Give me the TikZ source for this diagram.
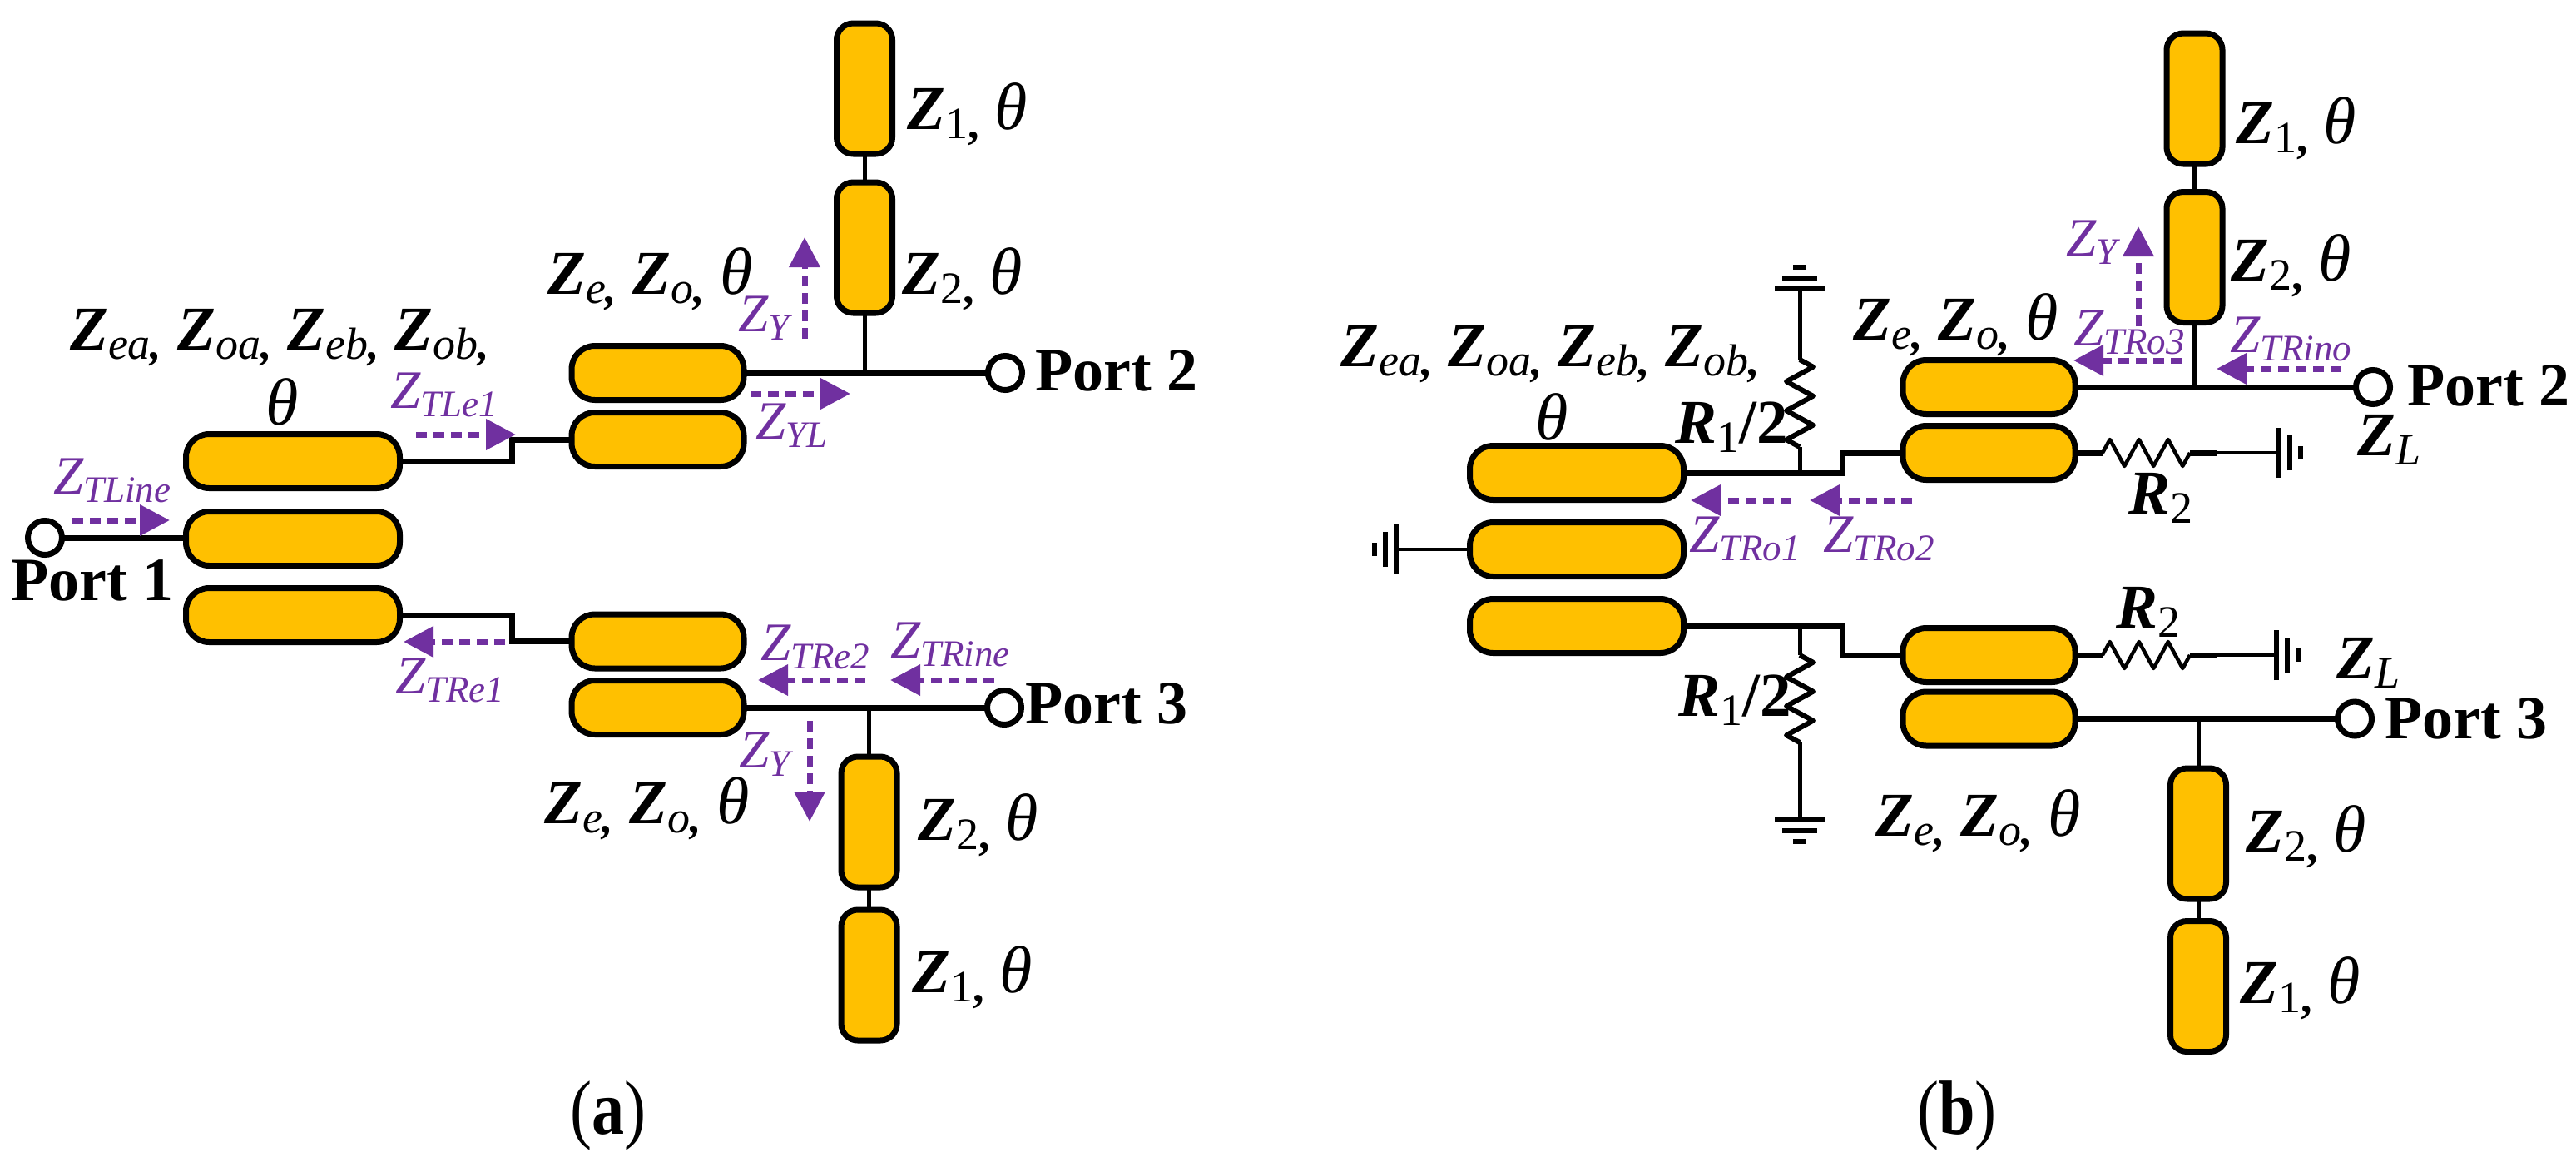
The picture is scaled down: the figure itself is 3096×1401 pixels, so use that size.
\documentclass[tikz,border=0pt]{standalone}
\usepackage{fontspec}
\setmainfont{Liberation Serif}
\usetikzlibrary{arrows.meta,decorations.pathmorphing}
\definecolor{tlgold}{HTML}{FFC000}
\definecolor{zpurple}{HTML}{7030A0}
\newcommand{\zsub}[1]{{\fontsize{54}{54}\selectfont\raisebox{-11pt}{\mdseries #1}}}
\newcommand{\zcom}{\textbf{,}}
\newcommand{\zth}{{\mdseries\fontsize{80}{80}\selectfont θ}}
\newcommand{\psub}[1]{{\fontsize{45}{45}\selectfont\raisebox{-10pt}{#1}}}
\tikzset{
  tline/.style={draw=black,fill=tlgold,line width=7pt,outer sep=0pt,inner sep=0pt,rounded corners=28pt},
  mainline/.style={tline,minimum width=257pt,minimum height=65pt},
  pairline/.style={tline,minimum width=207pt,minimum height=65pt},
  stubline/.style={tline,rounded corners=20pt,minimum width=67pt,minimum height=157pt},
  portnode/.style={circle,draw=black,fill=white,line width=7pt,outer sep=0pt,inner sep=0pt,minimum size=41pt},
  wire/.style={line width=7pt},
  thinwire/.style={line width=5pt},
  resistor/.style={line join=round,decorate,decoration={zigzag,segment length=35pt,amplitude=16pt}},
  zarrow/.style={zpurple,line width=7pt,dash pattern=on 13pt off 8pt,-{Triangle[length=36pt,width=36pt]}},
  zlabel/.style={anchor=base west,inner sep=0pt,font=\fontsize{75}{75}\selectfont\bfseries\itshape},
  plabel/.style={anchor=base west,inner sep=0pt,text=zpurple,font=\fontsize{65}{65}\selectfont\itshape},
  portlabel/.style={anchor=base west,inner sep=0pt,font=\fontsize{74}{74}\selectfont\bfseries},
  caplabel/.style={anchor=base,inner sep=0pt,font=\fontsize{92}{92}\selectfont},
  gnd/.pic={
    \draw[line width=6pt] (-30,0) -- (30,0);
    \draw[line width=6pt] (-21,13) -- (21,13);
    \draw[line width=6pt] (-8,26) -- (8,26);
  }
}
\begin{document}
\begin{tikzpicture}[x=1pt,y=-1pt]
  \useasboundingbox (0,0) rectangle (3096,1401);
  % left circuit
  \node[mainline] (am1) at (352,554) {};
  \node[mainline] (am2) at (352,647) {};
  \node[mainline] (am3) at (352,739) {};
  \node[pairline] (au1) at (790.5,448) {};
  \node[pairline] (au2) at (790.5,528) {};
  \node[pairline] (al1) at (790.5,770.5) {};
  \node[pairline] (al2) at (790.5,850) {};
  \node[stubline] (as1) at (1039,106.5) {};
  \node[stubline] (as2) at (1039,297.5) {};
  \node[stubline] (as3) at (1044.5,987.5) {};
  \node[stubline] (as4) at (1044.5,1171.5) {};
  \node[portnode] (ap1) at (54,646) {};
  \node[portnode] (ap2) at (1208,448) {};
  \node[portnode] (ap3) at (1207,850) {};
  \coordinate (at1) at (615,528);
  \coordinate (at2) at (615,770.5);
  \draw[wire,line join=miter] (am1.east) -| (at1) -- (au2.west);
  \draw[wire,line join=miter] (am3.east) -| (at2) -- (al1.west);
  \draw[wire] (ap1) -- (ap1 -| am2.west);
  \draw[wire] (au1.east) -- (ap2);
  \draw[wire] (al2.east) -- (ap3);
  \draw[thinwire] (as1) -- (as2);
  \draw[thinwire] (as2.south) -- (as2.south |- au1.east);
  \draw[thinwire] (as3.north) -- (as3.north |- al2.east);
  \draw[thinwire] (as3) -- (as4);

  \node[zlabel] (lz1) at (84,420) {Z\zsub{ea\zcom} Z\zsub{oa\zcom} Z\zsub{eb\zcom} Z\zsub{ob\zcom}};
  \node[zlabel] (lz2) at (319,510) {\zth};
  \node[zlabel] (lz3) at (658,353) {Z\zsub{e\zcom} Z\zsub{o\zcom} \zth};
  \node[zlabel] (lz4) at (654,989) {Z\zsub{e\zcom} Z\zsub{o\zcom} \zth};
  \node[zlabel] (lz5) at (1090,155) {Z\zsub{\upshape 1\zcom} \zth};
  \node[zlabel] (lz6) at (1084,353) {Z\zsub{\upshape 2\zcom} \zth};
  \node[zlabel] (lz7) at (1103,1009) {Z\zsub{\upshape 2\zcom} \zth};
  \node[zlabel] (lz8) at (1096,1192) {Z\zsub{\upshape 1\zcom} \zth};
  \node[portlabel] (lp1) at (13,721) {Port 1};
  \node[portlabel] (lp2) at (1244,469) {Port 2};
  \node[portlabel] (lp3) at (1232,869) {Port 3};
  \node[plabel] (lq1) at (64,593) {Z\psub{TLine}};
  \node[plabel] (lq2) at (469,490) {Z\psub{TLe1}};
  \node[plabel] (lq3) at (887,398) {Z\psub{Y}};
  \node[plabel] (lq4) at (908,527) {Z\psub{YL}};
  \node[plabel] (lq5) at (475,833) {Z\psub{TRe1}};
  \node[plabel] (lq6) at (914,793) {Z\psub{TRe2}};
  \node[plabel] (lq7) at (1070,790) {Z\psub{TRine}};
  \node[plabel] (lq8) at (888,922) {Z\psub{Y}};
  \coordinate (aa1) at (87,625);
  \coordinate (aa2) at (204,625);
  \coordinate (aa3) at (500,522);
  \coordinate (aa4) at (620,522);
  \coordinate (aa5) at (967,407);
  \coordinate (aa6) at (967,285);
  \coordinate (aa7) at (902,473);
  \coordinate (aa8) at (1022,473);
  \coordinate (aa9) at (607,771);
  \coordinate (aa10) at (485,771);
  \coordinate (aa11) at (1040,817);
  \coordinate (aa12) at (911,817);
  \coordinate (aa13) at (1195,817);
  \coordinate (aa14) at (1070,817);
  \coordinate (aa15) at (973,866);
  \coordinate (aa16) at (973,987);
  \draw[zarrow] (aa1) -- (aa2);
  \draw[zarrow] (aa3) -- (aa4);
  \draw[zarrow] (aa5) -- (aa6);
  \draw[zarrow] (aa7) -- (aa8);
  \draw[zarrow] (aa9) -- (aa10);
  \draw[zarrow] (aa11) -- (aa12);
  \draw[zarrow] (aa13) -- (aa14);
  \draw[zarrow] (aa15) -- (aa16);
  \node[caplabel] (capa) at (731,1362) {\scalebox{0.85}[1]{(\textbf{a})}};

  % right circuit
  \node[mainline] (bm1) at (1895,568) {};
  \node[mainline] (bm2) at (1895,660) {};
  \node[mainline] (bm3) at (1895,752) {};
  \node[pairline] (bu1) at (2390.5,465) {};
  \node[pairline] (bu2) at (2390.5,544) {};
  \node[pairline] (bl1) at (2390.5,787) {};
  \node[pairline] (bl2) at (2390.5,863.5) {};
  \node[stubline] (bs1) at (2637.5,118.5) {};
  \node[stubline] (bs2) at (2637.5,309) {};
  \node[stubline] (bs3) at (2642,1001.5) {};
  \node[stubline] (bs4) at (2642,1185) {};
  \node[portnode] (bp2) at (2852,465) {};
  \node[portnode] (bp3) at (2830,863.5) {};
  \coordinate (bt1) at (2214,544);
  \coordinate (bt2) at (2214,787);
  \coordinate (bj1) at (2163,568);
  \coordinate (bj2) at (2163,752);
  \coordinate (br1) at (2163,537);
  \coordinate (br2) at (2163,432);
  \coordinate (br3) at (2163,787);
  \coordinate (br4) at (2163,892);
  \coordinate (br5) at (2527,544);
  \coordinate (br6) at (2632,544);
  \coordinate (br7) at (2527,787);
  \coordinate (br8) at (2632,787);
  \coordinate (br9) at (2664,544);
  \coordinate (br10) at (2664,787);
  \coordinate (bg1) at (2163,347);
  \coordinate (bg2) at (2163,985);
  \coordinate (bg3) at (2739,544);
  \coordinate (bg4) at (2736,787);
  \coordinate (bg5) at (1678,660);
  \draw[wire,line join=miter] (bm1.east) -| (bt1) -- (bu2.west);
  \draw[wire,line join=miter] (bm3.east) -| (bt2) -- (bl1.west);
  \draw[wire] (bu1.east) -- (bp2);
  \draw[wire] (bl2.east) -- (bp3);
  \draw[thinwire] (bs1) -- (bs2);
  \draw[thinwire] (bs2.south) -- (bs2.south |- bu1.east);
  \draw[thinwire] (bs3.north) -- (bs3.north |- bl2.east);
  \draw[thinwire] (bs3) -- (bs4);
  \draw[thinwire] (bj1) -- (br1);
  \draw[resistor,line width=6pt] (br1) -- (br2);
  \draw[thinwire] (br2) -- (bg1);
  \draw[thinwire] (bj2) -- (br3);
  \draw[resistor,line width=6pt] (br3) -- (br4);
  \draw[thinwire] (br4) -- (bg2);
  \draw[wire] (bu2.east) -- (br5);
  \draw[resistor,line width=4.5pt] (br5) -- (br6);
  \draw[wire] (br6) -- (br9);
  \draw[line width=4pt] (br9) -- (bg3);
  \draw[wire] (bl1.east) -- (br7);
  \draw[resistor,line width=4.5pt] (br7) -- (br8);
  \draw[wire] (br8) -- (br10);
  \draw[line width=4pt] (br10) -- (bg4);
  \draw[line width=4pt] (bm2.west) -- (bg5);
  \pic[rotate=180] at (bg1) {gnd};
  \pic at (bg2) {gnd};
  \pic[rotate=90] at (bg3) {gnd};
  \pic[rotate=90] at (bg4) {gnd};
  \pic[rotate=-90] at (bg5) {gnd};

  \node[zlabel] (mz1) at (1611,440) {Z\zsub{ea\zcom} Z\zsub{oa\zcom} Z\zsub{eb\zcom} Z\zsub{ob\zcom}};
  \node[zlabel] (mz2) at (1845,528) {\zth};
  \node[zlabel] (mz3) at (2227,408) {Z\zsub{e\zcom} Z\zsub{o\zcom} \zth};
  \node[zlabel] (mz4) at (2254,1004) {Z\zsub{e\zcom} Z\zsub{o\zcom} \zth};
  \node[zlabel] (mz5) at (2687,172) {Z\zsub{\upshape 1\zcom} \zth};
  \node[zlabel] (mz6) at (2681,337) {Z\zsub{\upshape 2\zcom} \zth};
  \node[zlabel] (mz7) at (2699,1023) {Z\zsub{\upshape 2\zcom} \zth};
  \node[zlabel] (mz8) at (2692,1205) {Z\zsub{\upshape 1\zcom} \zth};
  \node[zlabel] (mr1) at (2013,532) {R\zsub{\upshape 1}{\upshape /2}};
  \node[zlabel] (mr2) at (2017,860) {R\zsub{\upshape 1}{\upshape /2}};
  \node[zlabel] (mr3) at (2558,617) {R\zsub{\upshape 2}};
  \node[zlabel] (mr4) at (2543,754) {R\zsub{\upshape 2}};
  \node[zlabel] (ml1) at (2833,547) {Z\zsub{L}};
  \node[zlabel] (ml2) at (2808,815) {Z\zsub{L}};
  \node[portlabel] (mp2) at (2893,487) {Port 2};
  \node[portlabel] (mp3) at (2866,887) {Port 3};
  \node[plabel] (mq1) at (2483,307) {Z\psub{Y}};
  \node[plabel] (mq2) at (2492,415) {Z\psub{TRo3}};
  \node[plabel] (mq3) at (2680,423) {Z\psub{TRino}};
  \node[plabel] (mq4) at (2030,663) {Z\psub{TRo1}};
  \node[plabel] (mq5) at (2191,663) {Z\psub{TRo2}};
  \coordinate (ba1) at (2570,392);
  \coordinate (ba2) at (2570,272);
  \coordinate (ba3) at (2622,433);
  \coordinate (ba4) at (2492,433);
  \coordinate (ba5) at (2814,443);
  \coordinate (ba6) at (2664,443);
  \coordinate (ba7) at (2153,601);
  \coordinate (ba8) at (2032,601);
  \coordinate (ba9) at (2298,601);
  \coordinate (ba10) at (2175,601);
  \draw[zarrow] (ba1) -- (ba2);
  \draw[zarrow] (ba3) -- (ba4);
  \draw[zarrow] (ba5) -- (ba6);
  \draw[zarrow] (ba7) -- (ba8);
  \draw[zarrow] (ba9) -- (ba10);
  \node[caplabel] (capb) at (2352,1362) {\scalebox{0.85}[1]{(\textbf{b})}};
\end{tikzpicture}
\end{document}
